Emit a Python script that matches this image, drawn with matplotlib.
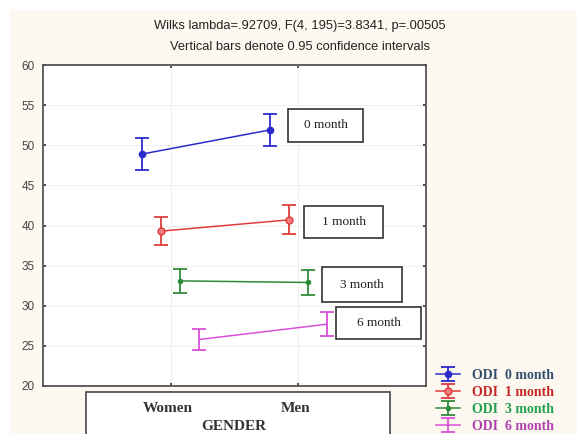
from matplotlib import pyplot as plt
from matplotlib.patches import Rectangle
import numpy as np

groups = ["Women", "Men"]
months = ["0 month", "1 month", "3 month", "6 month"]
means_0 = [48.9, 51.9]
means_1 = [39.3, 40.7]
means_3 = [33.1, 32.9]
means_6 = [25.8, 27.7]
ci_0 = [1.95, 2.05]
ci_1 = [1.7, 1.8]
ci_3 = [1.5, 1.6]
ci_6 = [1.35, 1.5]

W, H = 577, 434
fig = plt.figure(figsize=(W / 100, H / 100), dpi=100, facecolor="white")


def px(x0, y0, x1, y1):
    # image pixel box -> figure fraction (left, bottom, width, height)
    return x0 / W, 1 - y1 / H, (x1 - x0) / W, (y1 - y0) / H


# cream panel behind everything
l, b, w, h = px(10, 10, W, H)
fig.patches.append(Rectangle((l, b), w, h, transform=fig.transFigure,
                             facecolor="#fdf9f0", edgecolor="none", zorder=-5))

ax = fig.add_axes(px(43, 65, 426, 386))
ax.set_facecolor("white")

series = [
    (means_0, ci_0, "#2b2bcc", "o", 4.5, "#2b2bcc"),
    (means_1, ci_1, "#e03c3c", "o", 5, "#f08080"),
    (means_3, ci_3, "#2e8b3a", "o", 3, "#2e8b3a"),
    (means_6, ci_6, "#d94fd9", "", 0, "#d94fd9"),
]
offsets = [-0.225, -0.075, 0.075, 0.225]
x = np.arange(len(groups))

handles = []
for (m, ci, c, mk, ms, fc), off in zip(series, offsets):
    eb = ax.errorbar(x + off, m, yerr=ci, color=c, marker=mk, markersize=ms,
                     markerfacecolor=fc, markeredgecolor=c, lw=1.1,
                     elinewidth=1.3, capsize=5, capthick=1.3, zorder=3)
    handles.append(eb)

ax.set_xlim(-1, 2)
ax.set_ylim(20, 60)
ax.set_yticks(np.arange(20, 61, 5))
ax.set_xticks(x)
ax.set_xticklabels([])
ax.grid(True, color="#f0f0f0", lw=0.8)
ax.set_axisbelow(True)
ax.tick_params(direction="in", length=2, width=1.2, color="#333",
               labelsize=8.5, labelcolor="#444", right=True, top=True, pad=6)
for lab in ax.get_yticklabels():
    lab.set_family("Liberation Sans")
for s in ax.spines.values():
    s.set_color("#555")
    s.set_linewidth(1.3)

# titles
fig.text(300 / W, 1 - 26 / H, "Wilks lambda=.92709, F(4, 195)=3.8341, p=.00505",
         ha="center", va="center", fontsize=9.3, family="Liberation Sans", color="#222")
fig.text(300 / W, 1 - 47 / H, "Vertical bars denote 0.95 confidence intervals",
         ha="center", va="center", fontsize=9.3, family="Liberation Sans", color="#222")

# labelled boxes
boxes = [(288, 109, 363, 142), (304, 206, 383, 238), (322, 267, 402, 302), (336, 307, 421, 339)]
for (x0, y0, x1, y1), lab in zip(boxes, months):
    l, b, w, h = px(x0, y0, x1, y1)
    fig.patches.append(Rectangle((l, b), w, h, transform=fig.transFigure,
                                 facecolor="white", edgecolor="#333", lw=1.2, zorder=5))
    fig.text(l + w / 2, b + h / 2, lab, ha="center", va="center", fontsize=9.5,
             family="Liberation Serif", color="#222", zorder=6)

# category box under the axis
l, b, w, h = px(86, 392, 390, H + 5)
fig.patches.append(Rectangle((l, b), w, h, transform=fig.transFigure,
                             facecolor="white", edgecolor="#555", lw=1.3, zorder=1))
for xi, g in zip(x, groups):
    xf = fig.transFigure.inverted().transform(ax.transData.transform((xi, 20)))[0]
    fig.text(xf - 3 / W, 1 - 409 / H, g, ha="center", va="center", fontsize=11,
             family="Liberation Serif", weight="bold", color="#333", zorder=2)
fig.text(234 / W, 1 - 427 / H, "GENDER", ha="center", va="center", fontsize=11,
         family="Liberation Serif", weight="bold", color="#333", zorder=2)

# legend
leg = fig.legend(handles, ["ODI  " + mo for mo in months], loc="upper left",
                 bbox_to_anchor=(436 / W, 1 - 369 / H), frameon=False,
                 prop={"family": "Liberation Serif", "weight": "bold", "size": 10},
                 handlelength=1.7, handletextpad=0.9, labelspacing=0.28,
                 borderpad=0, borderaxespad=0)
for t, c in zip(leg.get_texts(), ["#34506e", "#c62828", "#22a050", "#b040b0"]):
    t.set_color(c)

fig.savefig("out.png", dpi=100, facecolor=fig.get_facecolor())
